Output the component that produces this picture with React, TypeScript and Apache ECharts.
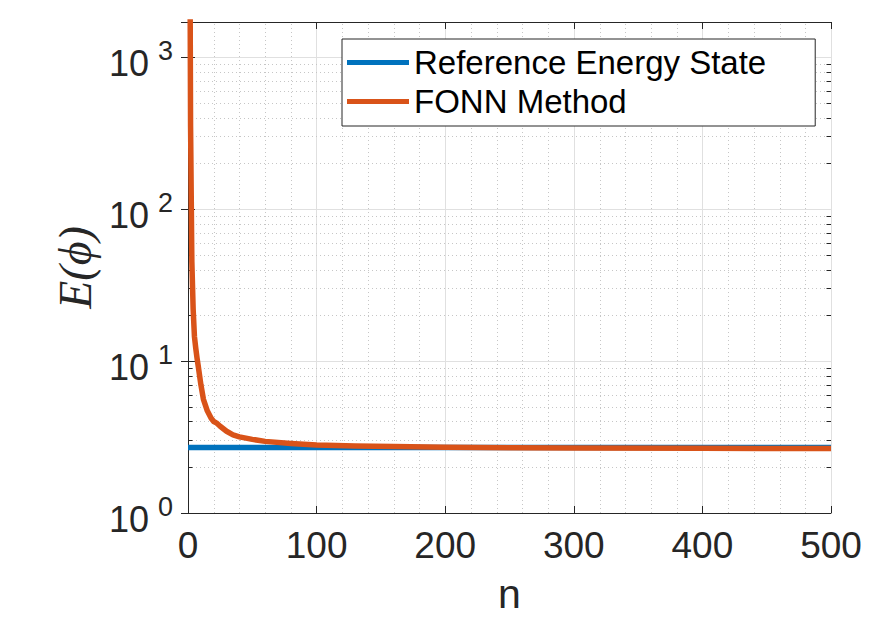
import React, { useEffect, useRef } from "react";
import * as echarts from "echarts";

const X_MIN = 0;
const X_MAX = 500;
const X_INTERVAL = 100;
const Y_MIN = 1;
const Y_MAX = 1700;

const nValues = [1, 2, 3, 4, 5, 6, 7, 8, 10, 12, 15, 18, 20, 22, 25, 30, 35, 40, 50, 60, 80, 100, 130, 160, 200, 250, 300, 400, 500];
const fonnEnergy = [100000, 350, 45, 22, 14.5, 12.2, 10.5, 9.2, 7.0, 5.6, 4.7, 4.2, 4.0, 3.92, 3.72, 3.45, 3.27, 3.17, 3.05, 2.96, 2.87, 2.8, 2.76, 2.74, 2.71, 2.69, 2.68, 2.665, 2.655];
const refN = [0, 500];
const refEnergy = [2.7, 2.7];

const yMinorValues = [2, 3, 4, 5, 6, 7, 8, 9, 20, 30, 40, 50, 60, 70, 80, 90, 200, 300, 400, 500, 600, 700, 800, 900];
const xMinorValues = [20, 40, 60, 80, 120, 140, 160, 180, 220, 240, 260, 280, 320, 340, 360, 380, 420, 440, 460, 480];

const seriesNames = ["Reference Energy State", "FONN Method"];
const seriesColors = ["#0072BD", "#D95319"];

const AXIS_COLOR = "#262626";
const FONT = "'Liberation Sans', Arial, Helvetica, sans-serif";

export default function App() {
  const ref = useRef<HTMLDivElement>(null);
  useEffect(() => {
    if (!ref.current) return;
    const chart = echarts.init(ref.current, null, { renderer: "svg" });
    const minorColor = "#c6c6c6";
    const option: any = {
      animation: false,
      backgroundColor: "#ffffff",
      grid: { left: 188, top: 22, right: 47, bottom: 118, containLabel: false },
      legend: {
        data: seriesNames,
        orient: "vertical",
        left: 342,
        top: 39,
        padding: [7, 49, 8, 5],
        itemGap: 6,
        itemWidth: 62,
        itemHeight: 5,
        icon: "rect",
        borderColor: AXIS_COLOR,
        borderWidth: 1,
        backgroundColor: "#ffffff",
        textStyle: { fontSize: 33, fontFamily: FONT, color: "#000000" },
      },
      xAxis: [
        {
          type: "value",
          min: X_MIN,
          max: X_MAX,
          interval: X_INTERVAL,
          name: "n",
          nameLocation: "middle",
          nameGap: 60,
          nameTextStyle: { fontSize: 41, fontFamily: FONT, color: AXIS_COLOR },
          axisLine: { show: true, lineStyle: { color: AXIS_COLOR, width: 1 } },
          axisTick: { show: true, inside: true, length: 7, lineStyle: { color: AXIS_COLOR } },
          axisLabel: { fontSize: 37, fontFamily: FONT, color: AXIS_COLOR, margin: 14 },
          splitLine: { show: true, lineStyle: { color: "#e0e0e0", width: 1 } },
        },
        {
          type: "value",
          position: "top",
          min: X_MIN,
          max: X_MAX,
          interval: X_INTERVAL,
          axisLine: { show: true, lineStyle: { color: AXIS_COLOR, width: 1 } },
          axisTick: { show: true, inside: true, length: 7, lineStyle: { color: AXIS_COLOR } },
          axisLabel: { show: false },
          splitLine: { show: false },
        },
      ],
      yAxis: [
        {
          type: "log",
          logBase: 10,
          min: Y_MIN,
          max: Y_MAX,
          name: "E(ϕ)",
          nameLocation: "middle",
          nameRotate: 90,
          nameGap: 90,
          nameTextStyle: {
            fontSize: 46,
            fontFamily: "'Liberation Serif', 'DejaVu Serif', serif",
            fontStyle: "italic",
            color: AXIS_COLOR,
          },
          axisLine: { show: true, lineStyle: { color: AXIS_COLOR, width: 1 } },
          axisTick: { show: true, inside: true, length: 7, lineStyle: { color: AXIS_COLOR } },
          axisLabel: {
            margin: 15,
            color: AXIS_COLOR,
            fontFamily: FONT,
            formatter: (v: number) => {
              const e = Math.log10(v);
              const r = Math.round(e);
              if (Math.abs(e - r) > 1e-6) return "";
              return "{b|10}{e|" + r + "}";
            },
            rich: {
              b: { fontSize: 36, lineHeight: 36, fontFamily: FONT, color: AXIS_COLOR, padding: [13, 0, 0, 0] },
              e: { fontSize: 27, lineHeight: 27, fontFamily: FONT, color: AXIS_COLOR, padding: [0, 0, 12, 9] },
            },
          },
          splitLine: { show: true, lineStyle: { color: "#e0e0e0", width: 1 } },
        },
        {
          type: "log",
          logBase: 10,
          position: "right",
          min: Y_MIN,
          max: Y_MAX,
          axisLine: { show: true, lineStyle: { color: AXIS_COLOR, width: 1 } },
          axisTick: { show: true, inside: true, length: 7, lineStyle: { color: AXIS_COLOR } },
          axisLabel: { show: false },
          splitLine: { show: false },
        },
      ],
      series: [
        {
          type: "custom",
          name: "yMinor",
          xAxisIndex: 0,
          yAxisIndex: 0,
          silent: true,
          z: 1,
          encode: { x: 0, y: 1 },
          data: yMinorValues.map((v) => [X_MIN, v]),
          renderItem: (params: any, api: any) => {
            const v = api.value(1);
            const a = api.coord([X_MIN, v]);
            const b = api.coord([X_MAX, v]);
            const y = Math.round(a[1]) + 0.5;
            return {
              type: "group",
              children: [
                { type: "line", shape: { x1: a[0], y1: y, x2: b[0], y2: y }, style: { stroke: minorColor, lineWidth: 1, lineDash: [1, 3] } },
                { type: "line", shape: { x1: a[0], y1: y, x2: a[0] + 4.5, y2: y }, style: { stroke: AXIS_COLOR, lineWidth: 1 } },
                { type: "line", shape: { x1: b[0] - 4.5, y1: y, x2: b[0], y2: y }, style: { stroke: AXIS_COLOR, lineWidth: 1 } },
              ],
            };
          },
        },
        {
          type: "custom",
          name: "xMinor",
          xAxisIndex: 0,
          yAxisIndex: 0,
          silent: true,
          z: 1,
          encode: { x: 0, y: 1 },
          data: xMinorValues.map((v) => [v, Y_MIN]),
          renderItem: (params: any, api: any) => {
            const v = api.value(0);
            const a = api.coord([v, Y_MIN]);
            const b = api.coord([v, Y_MAX]);
            const x = Math.round(a[0]) + 0.5;
            return {
              type: "line",
              shape: { x1: x, y1: a[1], x2: x, y2: b[1] },
              style: { stroke: minorColor, lineWidth: 1, lineDash: [1, 3] },
            };
          },
        },
        {
          type: "line",
          name: seriesNames[0],
          xAxisIndex: 0,
          yAxisIndex: 0,
          z: 3,
          symbol: "none",
          showSymbol: false,
          color: seriesColors[0],
          lineStyle: { color: seriesColors[0], width: 5.5 },
          data: refN.map((n, i) => [n, refEnergy[i]]),
        },
        {
          type: "line",
          name: seriesNames[1],
          xAxisIndex: 0,
          yAxisIndex: 0,
          z: 4,
          symbol: "none",
          showSymbol: false,
          clip: true,
          color: seriesColors[1],
          lineStyle: { color: seriesColors[1], width: 5.5, join: "round" },
          data: nValues.map((n, i) => [n, fonnEnergy[i]]),
        },
      ],
    };
    chart.setOption(option);
    return () => chart.dispose();
  }, []);
  return <div ref={ref} style={{ width: 878, height: 631, position: "absolute", left: 0, top: 0 }} />;
}
